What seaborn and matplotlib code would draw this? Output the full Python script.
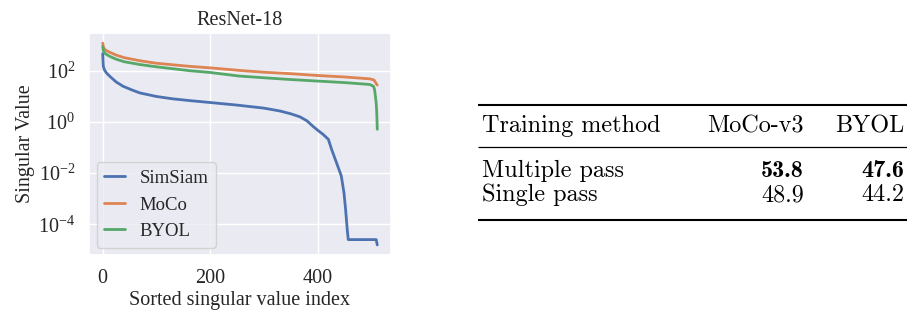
import matplotlib
matplotlib.use("Agg")
import matplotlib.pyplot as plt
import pandas as pd
import seaborn as sns

simsiam_idx = [0, 1, 3, 7, 13, 25, 38, 55, 69, 100, 130, 162, 200, 250, 300, 330, 350,
               367, 380, 392, 400, 410, 420, 426, 435, 444, 449, 452, 455, 457, 509, 511]
simsiam_sv = [470, 158, 112, 83, 62, 37, 25, 17.8, 13.8, 10, 8.1, 6.9, 5.8, 4.6, 3.5, 2.7, 2.1,
              1.6, 1.12, 0.66, 0.48, 0.33, 0.21, 0.085, 0.026, 0.0078, 0.0017, 0.00039, 6.5e-5,
              2.5e-5, 2.5e-5, 1.55e-5]

moco_idx = [0, 1, 2, 5, 13, 25, 40, 69, 100, 162, 200, 254, 300, 350, 401, 450, 497, 505, 509, 511]
moco_sv = [1230, 930, 795, 660, 537, 417, 331, 251, 200, 151, 132, 105, 89, 78, 66, 58, 49, 44, 32, 28]

byol_idx = [0, 1, 2, 5, 13, 25, 40, 69, 100, 162, 200, 254, 300, 350, 401, 450, 497, 504, 506,
            509, 510, 511]
byol_sv = [910, 660, 560, 468, 372, 288, 229, 178, 145, 102, 87, 63, 54, 46, 40, 35, 29.5, 25, 18.6,
           5.6, 2.5, 0.52]

# table
table_cols = ["Training method", "MoCo-v3", "BYOL"]
table_rows = ["Multiple pass", "Single pass"]
moco_acc = [53.8, 48.9]
byol_acc = [47.6, 44.2]

sns.set_theme(style="darkgrid")
plt.rcParams["font.family"] = ["Liberation Serif", "DejaVu Serif"]
plt.rcParams["mathtext.fontset"] = "stix"

fig = plt.figure(figsize=(9.07, 3.14), dpi=100)
ax = fig.add_axes([89 / 907, 59 / 314, 302 / 907, 222 / 314])

for name, idx, sv in [("SimSiam", simsiam_idx, simsiam_sv),
                      ("MoCo", moco_idx, moco_sv),
                      ("BYOL", byol_idx, byol_sv)]:
    df = pd.DataFrame({"index": idx, "sv": sv})
    sns.lineplot(data=df, x="index", y="sv", label=name, ax=ax, linewidth=2)

ax.set_yscale("log")
ax.set_yticks([1e-4, 1e-2, 1e0, 1e2])
ax.minorticks_off()
ax.set_xticks([0, 200, 400])
ax.tick_params(labelsize=14.5, pad=4)
ax.set_title("ResNet-18", fontsize=14.5, pad=6)
ax.set_xlabel("Sorted singular value index", fontsize=14.5, labelpad=2)
ax.set_ylabel("Singular Value", fontsize=14.5, labelpad=2)
ax.legend(loc="lower left", fontsize=13.5, handlelength=1.1, borderaxespad=0.4)

# booktabs-style table on the right, coordinates in pixels
tab = fig.add_axes([0, 0, 1, 1])
tab.set_xlim(0, 907)
tab.set_ylim(314, 0)
tab.axis("off")
tab.patch.set_alpha(0)

cm = dict(family="cmr10", fontsize=17.4, va="baseline", color="black")
cmb = dict(family="cmb10", fontsize=17.4, va="baseline", color="black")

tab.hlines(105, 478, 907, color="black", linewidth=1.5)
tab.hlines(147.3, 478, 907, color="black", linewidth=0.9)
tab.hlines(220, 478, 907, color="black", linewidth=1.5)

tab.text(482, 132.3, table_cols[0], ha="left", **cm)
tab.text(804, 132.3, table_cols[1], ha="right", **cm)
tab.text(904, 132.3, table_cols[2], ha="right", **cm)

for i, (row, m, b) in enumerate(zip(table_rows, moco_acc, byol_acc)):
    y = 176.7 + i * 24.3
    style = cmb if i == 0 else cm
    tab.text(482, y, row, ha="left", **cm)
    tab.text(804, y, f"{m:.1f}", ha="right", **style)
    tab.text(904, y, f"{b:.1f}", ha="right", **style)

fig.savefig("out.png", dpi=100)
